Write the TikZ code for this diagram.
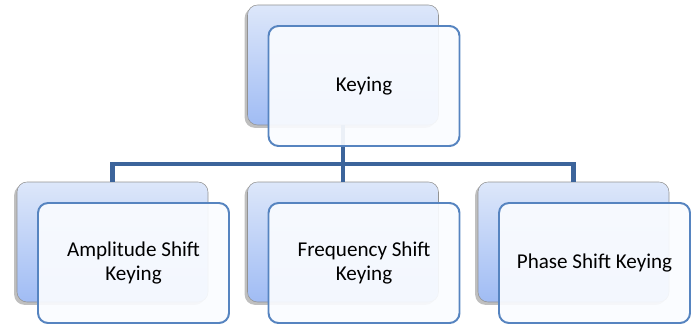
\documentclass[tikz,border=0pt]{standalone}
\usepackage{fontspec}
\setmainfont{Carlito}
\usetikzlibrary{shadows}
\definecolor{backtop}{RGB}{221,231,250}
\definecolor{backbot}{RGB}{160,188,244}
\definecolor{frontline}{RGB}{86,132,192}
\definecolor{busline}{RGB}{60,100,155}

\begin{document}
\begin{tikzpicture}[semithick,
    backbox/.style={draw=gray!85, thin, rounded corners=0.25cm,
        minimum width=4.775cm, minimum height=3cm, inner sep=0pt,
        top color=backtop, bottom color=backbot,
        drop shadow={shadow xshift=-0.07cm, shadow yshift=-0.07cm, opacity=0.5}},
    frontbox/.style={draw=frontline, line width=1.4pt, rounded corners=0.25cm,
        minimum width=4.775cm, minimum height=3cm, inner sep=0pt,
        fill={rgb,255:red,250;green,252;blue,255}, fill opacity=0.92, text opacity=1,
        align=center, text=black, font=\fontsize{15}{16.5}\selectfont,
        xshift=0.525cm, yshift=-0.525cm},
    bus/.style={draw=busline, line width=3pt}]
    \useasboundingbox (0,0) rectangle (17.35,8.075);

    % back boxes
    \node[backbox] (keyB) at (8.575,6.45) {};
    \node[backbox] (askB) at (2.8125,2.025) {};
    \node[backbox] (fskB) at (8.575,2.025) {};
    \node[backbox] (pskB) at (14.3375,2.025) {};

    % tree connectors
    \coordinate (bus) at (0,3.975);
    \draw[bus] (keyB.south) -- (keyB.south |- bus);
    \draw[bus] (askB.north) |- (bus -| pskB.north) -- (pskB.north);
    \draw[bus] (fskB.north) -- (fskB.north |- bus);

    % front boxes with labels
    \node[frontbox] (key) at (keyB) {Keying};
    \node[frontbox] (ask) at (askB) {Amplitude Shift\\Keying};
    \node[frontbox] (fsk) at (fskB) {Frequency Shift\\Keying};
    \node[frontbox] (psk) at (pskB) {Phase Shift Keying};
\end{tikzpicture}
\end{document}
